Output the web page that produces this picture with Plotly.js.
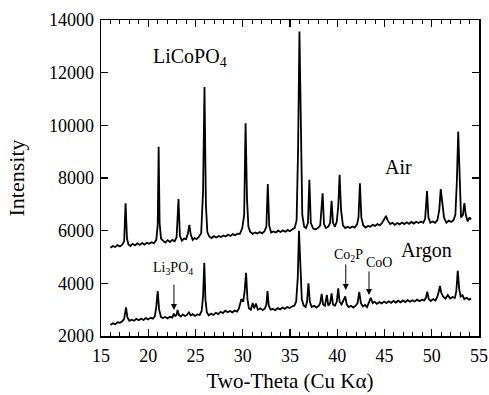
<!DOCTYPE html>
<html><head><meta charset="utf-8">
<script src="https://cdn.plot.ly/plotly-3.0.1.min.js"></script>
<style>html,body{margin:0;padding:0;background:#fff}#chart{width:489px;height:395px}</style>
</head><body><div id="chart"></div>
<script>
// Air sample pattern
const airX = [16.0,16.25,16.5,16.75,17.0,17.25,17.45,17.6,17.75,17.9,18.1,18.35,18.6,18.85,19.1,19.35,19.6,19.85,20.1,20.35,20.6,20.85,21.0,21.1,21.2,21.35,21.55,21.8,22.05,22.3,22.55,22.8,23.0,23.2,23.35,23.55,23.8,24.0,24.2,24.35,24.5,24.7,24.9,25.1,25.35,25.6,25.8,25.95,26.1,26.25,26.45,26.7,26.95,27.2,27.45,27.7,27.95,28.2,28.45,28.7,28.95,29.2,29.45,29.7,29.95,30.15,30.3,30.45,30.6,30.8,31.05,31.3,31.55,31.8,32.05,32.3,32.5,32.65,32.8,33.0,33.25,33.5,33.75,34.0,34.25,34.5,34.75,35.0,35.25,35.5,35.7,35.85,36.0,36.15,36.3,36.5,36.7,36.9,37.05,37.2,37.45,37.7,37.95,38.2,38.45,38.6,38.8,39.05,39.25,39.4,39.55,39.75,39.95,40.1,40.25,40.4,40.6,40.85,41.1,41.35,41.6,41.85,42.1,42.25,42.4,42.55,42.75,43.0,43.25,43.5,43.75,44.0,44.25,44.5,44.75,45.0,45.15,45.35,45.6,45.85,46.1,46.35,46.6,46.85,47.1,47.35,47.6,47.85,48.1,48.35,48.6,48.85,49.1,49.3,49.5,49.65,49.85,50.1,50.35,50.6,50.8,50.95,51.1,51.3,51.55,51.8,52.05,52.3,52.5,52.65,52.8,52.95,53.1,53.3,53.45,53.6,53.8,54.0,54.15];
const airY = [5350,5420,5380,5450,5400,5470,5600,7040,5700,5480,5420,5500,5440,5520,5460,5530,5470,5540,5500,5560,5520,5650,6200,9190,6300,5700,5620,5550,5640,5570,5650,5600,5750,7200,5800,5620,5700,5680,5900,6220,5850,5650,5720,5680,5760,5900,7500,11460,7000,5950,5780,5720,5790,5740,5800,5760,5820,5780,5850,5800,5870,5830,5890,5880,6100,6600,10080,7200,6150,5950,5880,5930,5890,5950,5900,5980,6150,7770,6200,5930,5970,5930,6000,5950,6010,5960,6020,5980,6050,6100,6400,9000,13560,9500,6600,6150,6100,6300,7930,6300,6080,6050,6100,6200,7420,6250,6100,6150,6300,7130,6300,6150,6350,6900,8120,6800,6200,6100,6150,6100,6160,6120,6250,6500,7800,6500,6200,6120,6180,6150,6220,6180,6250,6200,6300,6450,6560,6380,6250,6300,6220,6290,6240,6310,6250,6320,6260,6330,6270,6340,6290,6350,6300,6450,7500,6500,6300,6350,6300,6400,6800,7580,7000,6500,6300,6380,6330,6400,6600,7800,9760,7600,6500,6600,7050,6600,6350,6500,6420];
// Argon sample pattern
const argX = [16.0,16.25,16.5,16.75,17.0,17.25,17.45,17.65,17.8,18.0,18.25,18.5,18.75,19.0,19.25,19.5,19.75,20.0,20.25,20.5,20.7,20.85,21.0,21.15,21.35,21.55,21.8,22.05,22.3,22.55,22.7,22.85,23.0,23.1,23.25,23.45,23.65,23.9,24.1,24.3,24.5,24.7,24.95,25.2,25.45,25.65,25.8,25.93,26.05,26.2,26.4,26.65,26.9,27.15,27.4,27.65,27.9,28.15,28.4,28.65,28.9,29.15,29.4,29.6,29.85,30.05,30.2,30.35,30.5,30.65,30.85,31.05,31.2,31.4,31.6,31.85,32.1,32.35,32.5,32.62,32.75,32.95,33.2,33.45,33.7,33.95,34.2,34.45,34.7,34.95,35.2,35.45,35.65,35.82,35.95,36.1,36.25,36.45,36.65,36.8,36.95,37.1,37.3,37.55,37.8,38.05,38.2,38.35,38.5,38.7,38.9,39.05,39.25,39.4,39.55,39.75,39.95,40.1,40.25,40.45,40.65,40.85,41.0,41.2,41.45,41.7,41.95,42.15,42.33,42.5,42.7,42.95,43.15,43.35,43.55,43.75,43.95,44.2,44.45,44.7,44.95,45.2,45.45,45.7,45.95,46.2,46.45,46.7,46.95,47.2,47.45,47.7,47.95,48.2,48.45,48.7,48.95,49.2,49.38,49.53,49.68,49.9,50.15,50.4,50.6,50.75,50.87,51.0,51.2,51.45,51.7,51.95,52.2,52.45,52.6,52.75,52.9,53.05,53.25,53.45,53.7,53.95,54.15];
const argY = [2420,2480,2450,2520,2500,2560,2650,3090,2700,2580,2620,2580,2650,2600,2660,2610,2680,2630,2690,2660,2750,3100,3710,3000,2720,2680,2720,2670,2730,2700,2850,2760,2800,2990,2800,2740,2820,2760,2800,2900,2780,2830,2760,2820,2800,2950,3500,4780,3400,2900,2780,2850,2800,2880,2830,2920,2870,2960,2900,2950,2900,2970,2930,3050,3400,3300,3700,4400,3400,3050,3000,3250,3050,3230,3000,3050,2980,3050,3200,3710,3150,3000,3030,2980,3060,3010,3080,3030,3100,3060,3120,3150,3300,4200,6000,4300,3400,3150,3100,3300,4000,3300,3100,3150,3080,3150,3250,3600,3200,3150,3560,3150,3250,3620,3200,3150,3300,3810,3300,3200,3350,3500,3200,3100,3150,3080,3150,3250,3680,3250,3120,3180,3100,3300,3450,3250,3300,3220,3290,3240,3310,3250,3320,3260,3330,3270,3340,3280,3350,3290,3360,3300,3360,3310,3380,3320,3380,3350,3450,3680,3400,3330,3400,3350,3500,3700,3900,3650,3500,3420,3550,3420,3480,3450,3700,4480,3800,3500,3550,3400,3450,3380,3420];

const xTicks = [15,20,25,30,35,40,45,50,55];
const yTicks = [2000,4000,6000,8000,10000,12000,14000];

const FONT = 'Liberation Serif, Times New Roman, serif';
const line = {color:'#000', width:1.8};
const traces = [
  {x: airX, y: airY, type:'scatter', mode:'lines', line: line, name:'Air'},
  {x: argX, y: argY, type:'scatter', mode:'lines', line: line, name:'Argon'}
];

const txt = (text, x, y, size) => ({text, x, y, xref:'x', yref:'y', showarrow:false, font:{family:FONT, size, color:'#000'}, xanchor:'center', yanchor:'middle'});
const arrow = (x, yTail, yHead) => ({text:'', x, y:yHead, ax:x, ay:yTail, axref:'x', ayref:'y', xref:'x', yref:'y', showarrow:true, arrowhead:2, arrowsize:1.2, arrowwidth:1, arrowcolor:'#000'});

const layout = {
  width: 489, height: 395,
  margin: {l:101, r:10, t:20, b:59},
  paper_bgcolor:'#fff', plot_bgcolor:'#fff',
  showlegend:false,
  font:{family:FONT, color:'#000', size:18},
  xaxis:{
    range:[15,55], tickvals:xTicks, ticktext:xTicks.map(String),
    ticks:'inside', ticklen:7, tickwidth:1.2, tickcolor:'#000',
    minor:{dtick:1, ticks:'inside', ticklen:4, tickwidth:1, tickcolor:'#000'},
    showline:true, linecolor:'#000', linewidth:1.5, mirror:'ticks',
    showgrid:false, zeroline:false, ticklabelstandoff:3,
    tickfont:{family:FONT, size:18, color:'#000'},
    title:{text:'Two-Theta (Cu K\u03b1)', font:{family:FONT, size:21, color:'#000'}, standoff:8}
  },
  yaxis:{
    range:[2000,14000], tickvals:yTicks, ticktext:yTicks.map(String),
    ticks:'inside', ticklen:7, tickwidth:1.2, tickcolor:'#000',
    showline:true, linecolor:'#000', linewidth:1.5, mirror:'ticks',
    showgrid:false, zeroline:false, ticklabelstandoff:2,
    tickfont:{family:FONT, size:18, color:'#000'},
    title:{text:'Intensity', font:{family:FONT, size:22, color:'#000'}, standoff:18}
  },
  annotations:[
    txt('LiCoPO<sub>4</sub>', 24.42, 12560, 20),
    txt('Air', 46.53, 8420, 20),
    txt('Argon', 49.44, 5230, 20),
    txt('Li<sub>3</sub>PO<sub>4</sub>', 22.62, 4580, 14),
    txt('Co<sub>2</sub>P', 41.14, 5076, 14),
    txt('CoO', 44.42, 4773, 14),
    arrow(22.72, 4013, 2987),
    arrow(40.9, 4773, 3747),
    arrow(43.36, 4507, 3557)
  ]
};
Plotly.newPlot('chart', traces, layout, {displayModeBar:false, staticPlot:true});
</script></body></html>
